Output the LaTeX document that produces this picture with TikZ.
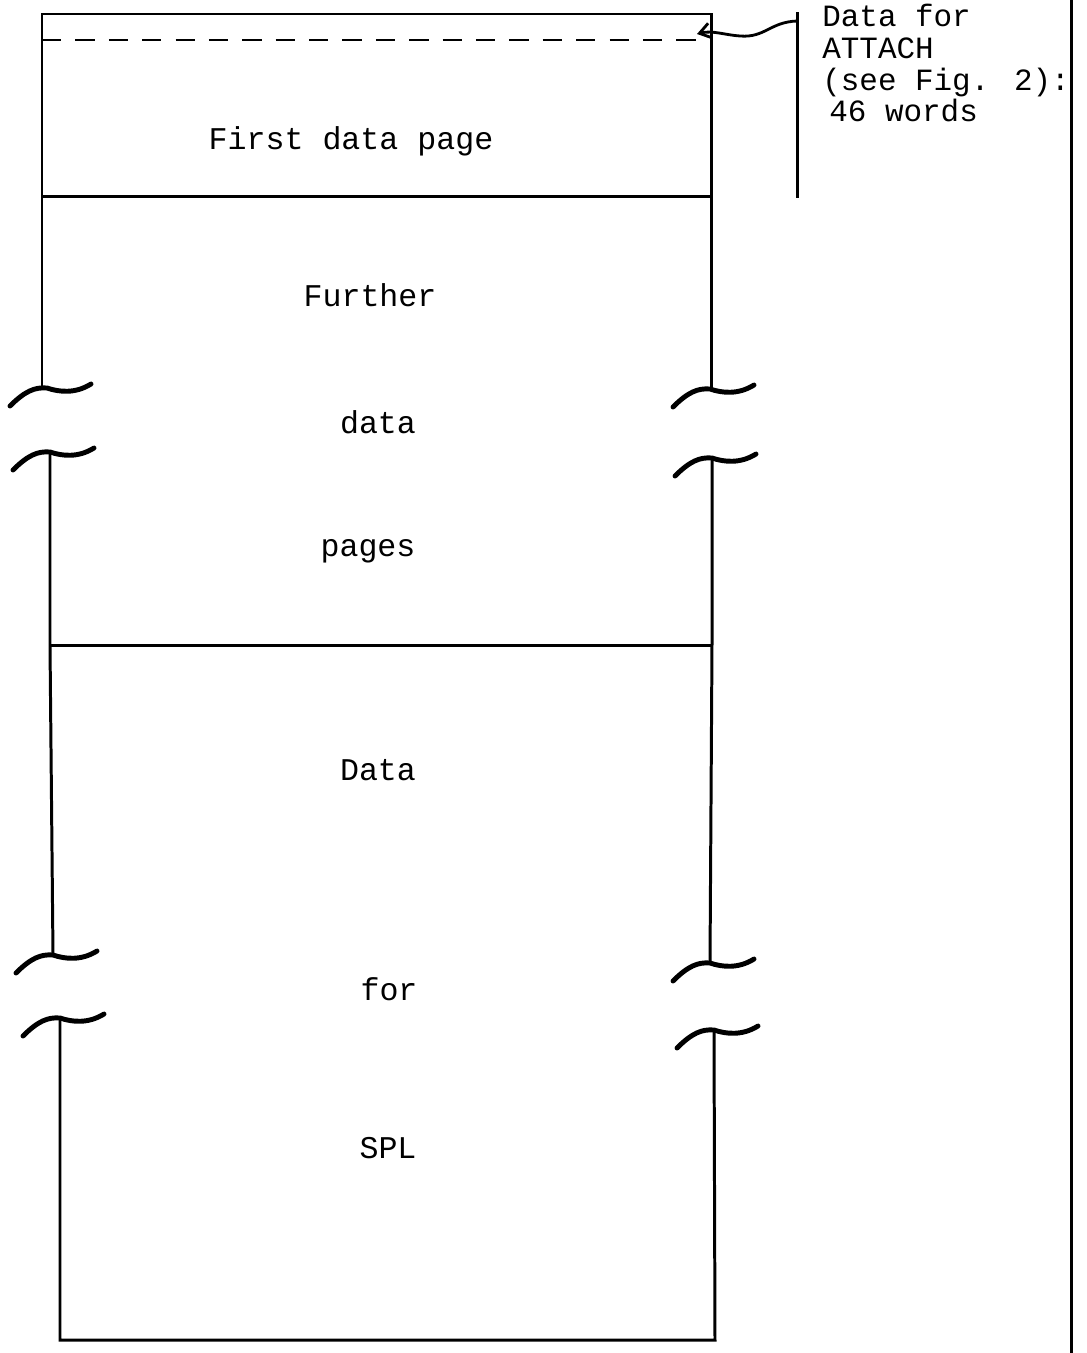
\documentclass[tikz,border=0pt]{standalone}
\usepackage{fontspec}
\newfontfamily\typewr{Liberation Mono}
\usetikzlibrary{arrows.meta, positioning}
\tikzset{
  wall/.style={line width=1.7pt, black},
  brk/.style={line width=2.8pt, black, line cap=round},
  dashline/.style={line width=1.3pt, dash pattern=on 11pt off 8pt},
  txt/.style={font=\typewr\fontsize{18}{18.4}\selectfont, inner sep=0pt, anchor=base},
  note/.style={txt, font=\typewr\fontsize{17.6}{18}\selectfont, align=left, anchor=north west},
  hook/.style={-{Straight Barb[length=2.2mm, width=3mm]}, line width=1.6pt},
}
\begin{document}
\begin{tikzpicture}[x=0.02cm, y=-0.02cm]
  \useasboundingbox (0,0) rectangle (1086,1353);

  % first data page
  \draw[wall] (42,388) -- (42,14) -- (711,14) -- (711,389);
  \draw[wall] (42,196) -- (711,196);
  \draw[dashline] (42,40) -- (700,40);
  \node[txt] (first) at (351,149) {First data page};

  % further data pages
  \draw[wall] (50,452) -- (50,645) -- (53,955);
  \draw[wall] (712,458) -- (712,645) -- (710,963);
  \draw[wall] (50,645) -- (712,645);
  \node[txt] (further) at (370,306) {Further};
  \node[txt] (datap) at (378,433) {data};
  \node[txt] (pages) at (368,556) {pages};

  % data for SPL
  \draw[wall] (60,1018) -- (60,1340) -- (715,1340) -- (714,1030);
  \node[txt] (data) at (378,780) {Data};
  \node[txt] (forspl) at (389,1000) {for};
  \node[txt] (spl) at (388,1158) {SPL};

  \foreach \x/\y in {47/388, 50/452, 710/389, 712/458, 53/955, 60/1018, 710/963, 714/1030}
    \draw[brk] (\x-37,\y+18) .. controls (\x-22,\y+3) and (\x-12,\y-1) .. (\x,\y)
      .. controls (\x+12,\y+4) and (\x+28,\y+6) .. (\x+44,\y-4);

  % note on the right
  \draw[wall] (797,12) -- (797,198);
  \coordinate (bracket) at (797,21);
  \coordinate (attachend) at (697,34);
  \draw[hook] (bracket) .. controls (770,22) and (765,38) .. (740,36)
    .. controls (725,35) and (712,30) .. (attachend);
  \node[note] (attach) at (822,4) {Data for\\ATTACH\\(see Fig. 2):\\\hspace{4pt}46 words};

  \draw[wall] (1071,0) -- (1071,1353);
\end{tikzpicture}
\end{document}
